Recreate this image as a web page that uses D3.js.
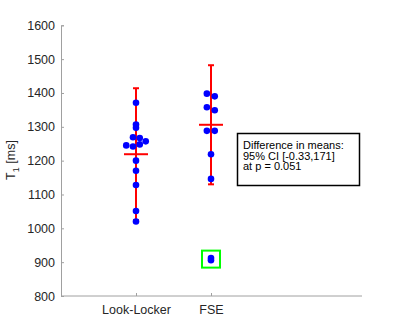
<!DOCTYPE html>
<html><head><meta charset="utf-8">
<script src="https://cdn.jsdelivr.net/npm/d3@7"></script>
<style>body{margin:0;background:#fff}svg{display:block}text{font-family:"Liberation Sans",Arial,sans-serif}</style>
</head><body><svg id="c" width="400" height="334"></svg>
<script>
const categories = ["Look-Locker", "FSE"];
const catPos = [1, 2];
const yTicks = [800, 900, 1000, 1100, 1200, 1300, 1400, 1500, 1600];
const llValues = [1371, 1307, 1297, 1269, 1267, 1257, 1245, 1242, 1248, 1200, 1170, 1128, 1051, 1020];
const llJitter = [0, 0, 0, -0.04, 0.05, 0.13, -0.13, -0.04, 0.05, 0, 0, 0, 0, 0];
const fseValues = [1398, 1390, 1358, 1349, 1288, 1288, 1219, 1146, 906, 912];
const fseJitter = [-0.055, 0.05, -0.055, 0.05, -0.055, 0.05, 0, 0, 0, 0];
const means = [1219, 1306];
const sds = [195, 176];
const outlierValue = 909;
const noteLines = ["Difference in means:", "95% CI [-0.33,171]", "at p = 0.051"];

const svg = d3.select("#c");
const x = d3.scaleLinear().domain([0, 4]).range([61, 361]);
const y = d3.scaleLinear().domain([800, 1600]).range([296, 25.3]);
const axisCol = "#a0a0a0", textCol = "#262626";

// axes
const gy = svg.append("g").attr("transform", `translate(${x(0)},0)`)
  .call(d3.axisLeft(y).tickValues(yTicks).tickSize(-3).tickPadding(6).tickFormat(d3.format("d")));
const gx = svg.append("g").attr("transform", `translate(0,${y(800)})`)
  .call(d3.axisBottom(x).tickValues(catPos).tickSize(-3).tickPadding(9).tickFormat((d,i) => categories[i]));
gx.select(".domain").attr("d", `M${x(0)},0H${x(4)+1}`);
[gx, gy].forEach(g => {
  g.select(".domain").attr("stroke", axisCol);
  g.selectAll(".tick line").attr("stroke", axisCol);
  g.selectAll(".tick text").attr("fill", textCol).attr("font-size", 12.5);
});

// y label
const yl = svg.append("text").attr("transform", `translate(15,160) rotate(-90)`)
  .attr("text-anchor", "middle").attr("fill", textCol).attr("font-size", 12.5);
yl.append("tspan").text("T");
yl.append("tspan").attr("font-size", 9).attr("dy", 4).text("1");
yl.append("tspan").attr("dy", -4).text(" [ms]");

// error bars
const red = "#ff0000";
means.forEach((m, i) => {
  const cx = x(catPos[i]);
  const g = svg.append("g").attr("stroke", red).attr("stroke-width", 2);
  g.append("line").attr("x1", cx).attr("x2", cx).attr("y1", y(m + sds[i])).attr("y2", y(m - sds[i]));
  [m + sds[i], m - sds[i]].forEach(v => g.append("line").attr("x1", cx - 3).attr("x2", cx + 3).attr("y1", y(v)).attr("y2", y(v)));
  g.append("line").attr("x1", cx - 12).attr("x2", cx + 12).attr("y1", y(m)).attr("y2", y(m));
});

// points
const pts = llValues.map((v, i) => ({c: catPos[0] + llJitter[i], v}))
  .concat(fseValues.map((v, i) => ({c: catPos[1] + fseJitter[i], v})));
svg.append("g").selectAll("circle").data(pts).join("circle")
  .attr("cx", d => x(d.c)).attr("cy", d => y(d.v)).attr("r", 3.3).attr("fill", "#0000ff");

// outlier box
svg.append("rect").attr("x", x(catPos[1]) - 9).attr("y", y(outlierValue) - 8.5)
  .attr("width", 18).attr("height", 17).attr("fill", "none").attr("stroke", "#00ff00").attr("stroke-width", 2);

// note box
svg.append("rect").attr("x", 237.5).attr("y", 133.5).attr("width", 122).attr("height", 52)
  .attr("fill", "#fff").attr("stroke", "#000").attr("stroke-width", 1.5);
svg.append("g").selectAll("text").data(noteLines).join("text")
  .attr("x", 243).attr("y", (d, i) => 149 + i * 10.5).attr("font-size", 11).attr("fill", "#000").text(d => d);
</script></body></html>
